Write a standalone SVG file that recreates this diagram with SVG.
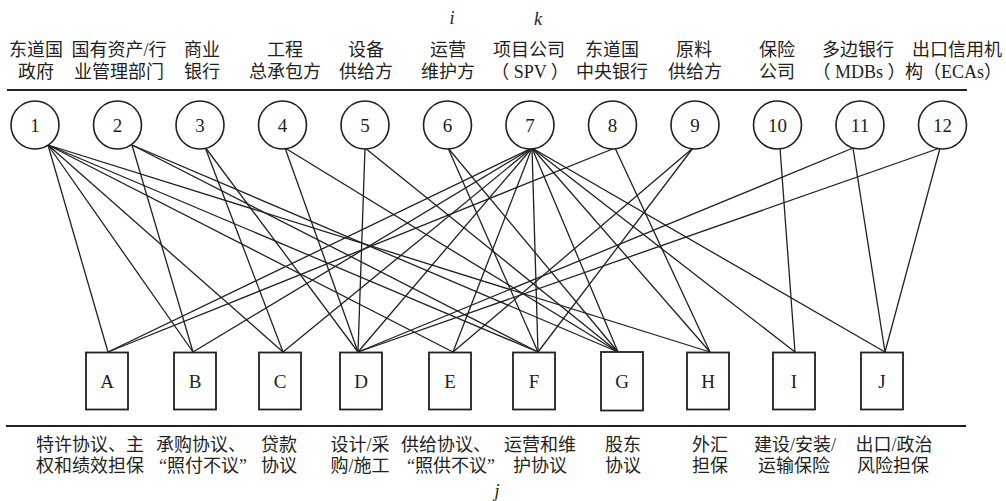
<svg xmlns="http://www.w3.org/2000/svg" width="1006" height="501" viewBox="0 0 1006 501">
<style>
  .cn { font-family: "Liberation Serif", "Noto Sans CJK SC", serif; font-size: 18px; fill: #231f20; text-anchor: middle; }
  .end { text-anchor: end; }
  .num { font-family: "Liberation Serif", serif; font-size: 19px; fill: #231f20; text-anchor: middle; }
  .var { font-family: "Liberation Serif", serif; font-style: italic; font-size: 18px; fill: #231f20; text-anchor: middle; }
  .party { fill: #fff; stroke: #231f20; stroke-width: 1.6; }
  .contract { fill: #fff; stroke: #231f20; stroke-width: 1.8; }
  .rule { stroke: #231f20; stroke-width: 2; }
  #links line { stroke: #231f20; stroke-width: 1.3; }
</style>

<!-- header labels -->
<text class="var" x="452" y="24">i</text>
<text class="var" x="538" y="25">k</text>

<!-- rules -->
<line class="rule" x1="7" y1="90" x2="967" y2="90"/>
<line class="rule" x1="6" y1="426" x2="966" y2="426"/>

<!-- connectors: party -> contract -->
<g id="links">
  <!-- 1 -->
  <line x1="48" y1="145" x2="108" y2="352"/>
  <line x1="48" y1="145" x2="193" y2="352"/>
  <line x1="48" y1="145" x2="283" y2="352"/>
  <line x1="48" y1="145" x2="453" y2="352"/>
  <line x1="48" y1="145" x2="538" y2="352"/>
  <line x1="48" y1="145" x2="710" y2="352"/>
  <!-- 2 -->
  <line x1="132" y1="145" x2="193" y2="352"/>
  <line x1="132" y1="145" x2="538" y2="352"/>
  <line x1="132" y1="145" x2="618" y2="352"/>
  <!-- 3 -->
  <line x1="205" y1="147" x2="283" y2="352"/>
  <line x1="205" y1="147" x2="358" y2="352"/>
  <!-- 4 -->
  <line x1="285" y1="148" x2="358" y2="352"/>
  <line x1="285" y1="148" x2="618" y2="352"/>
  <!-- 5 -->
  <line x1="365" y1="148" x2="358" y2="352"/>
  <line x1="365" y1="148" x2="618" y2="352"/>
  <!-- 6 -->
  <line x1="448" y1="148" x2="538" y2="352"/>
  <line x1="448" y1="148" x2="618" y2="352"/>
  <!-- 7 -->
  <line x1="532" y1="148" x2="108" y2="352"/>
  <line x1="532" y1="148" x2="193" y2="352"/>
  <line x1="532" y1="148" x2="283" y2="352"/>
  <line x1="532" y1="148" x2="358" y2="352"/>
  <line x1="532" y1="148" x2="453" y2="352"/>
  <line x1="532" y1="148" x2="538" y2="352"/>
  <line x1="532" y1="148" x2="618" y2="352"/>
  <line x1="532" y1="148" x2="710" y2="352"/>
  <line x1="532" y1="148" x2="795" y2="352"/>
  <line x1="532" y1="148" x2="885" y2="352"/>
  <!-- 8 -->
  <line x1="615" y1="148" x2="108" y2="352"/>
  <line x1="615" y1="148" x2="710" y2="352"/>
  <!-- 9 -->
  <line x1="693" y1="148" x2="453" y2="352"/>
  <line x1="693" y1="148" x2="538" y2="352"/>
  <!-- 10 -->
  <line x1="780" y1="148" x2="795" y2="352"/>
  <!-- 11 -->
  <line x1="853" y1="148" x2="358" y2="352"/>
  <line x1="853" y1="148" x2="885" y2="352"/>
  <!-- 12 -->
  <line x1="940" y1="148" x2="358" y2="352"/>
  <line x1="940" y1="148" x2="885" y2="352"/>
</g>

<!-- parties -->
<g id="p1"><circle class="party" cx="35" cy="125" r="24"/><text class="num" x="35" y="132">1</text>
  <text class="cn" x="36" y="56">东道国</text><text class="cn" x="36" y="78">政府</text></g>
<g id="p2"><circle class="party" cx="117.5" cy="125" r="24"/><text class="num" x="117.5" y="132">2</text>
  <text class="cn" x="119" y="56">国有资产/行</text><text class="cn" x="119" y="78">业管理部门</text></g>
<g id="p3"><circle class="party" cx="200" cy="125" r="24"/><text class="num" x="200" y="132">3</text>
  <text class="cn" x="202" y="56">商业</text><text class="cn" x="202" y="78">银行</text></g>
<g id="p4"><circle class="party" cx="282.5" cy="125" r="24"/><text class="num" x="282.5" y="132">4</text>
  <text class="cn" x="285" y="56">工程</text><text class="cn" x="285" y="78">总承包方</text></g>
<g id="p5"><circle class="party" cx="365" cy="125" r="24"/><text class="num" x="365" y="132">5</text>
  <text class="cn" x="366" y="56">设备</text><text class="cn" x="366" y="78">供给方</text></g>
<g id="p6"><circle class="party" cx="447.5" cy="125" r="24"/><text class="num" x="447.5" y="132">6</text>
  <text class="cn" x="448" y="56">运营</text><text class="cn" x="448" y="78">维护方</text></g>
<g id="p7"><circle class="party" cx="530" cy="125" r="24"/><text class="num" x="530" y="132">7</text>
  <text class="cn" x="529" y="56">项目公司</text><text class="cn" x="530" y="78">（ SPV ）</text></g>
<g id="p8"><circle class="party" cx="612.5" cy="125" r="24"/><text class="num" x="612.5" y="132">8</text>
  <text class="cn" x="612" y="56">东道国</text><text class="cn" x="612" y="78">中央银行</text></g>
<g id="p9"><circle class="party" cx="695" cy="125" r="24"/><text class="num" x="695" y="132">9</text>
  <text class="cn" x="694" y="56">原料</text><text class="cn" x="695" y="78">供给方</text></g>
<g id="p10"><circle class="party" cx="777.5" cy="125" r="24"/><text class="num" x="777.5" y="132">10</text>
  <text class="cn" x="777" y="56">保险</text><text class="cn" x="777" y="78">公司</text></g>
<g id="p11"><circle class="party" cx="860" cy="125" r="24"/><text class="num" x="860" y="132">11</text>
  <text class="cn" x="858" y="56">多边银行</text><text class="cn" x="859" y="78">（ MDBs ）</text></g>
<g id="p12"><circle class="party" cx="942.5" cy="125" r="24"/><text class="num" x="942.5" y="132">12</text>
  <text class="cn end" x="1002" y="56">出口信用机</text><text class="cn end" x="1002" y="78">构（ECAs）</text></g>

<!-- contracts -->
<g id="cA"><rect class="contract" x="86" y="352.5" width="42" height="57"/><text class="num" x="107" y="388">A</text>
  <text class="cn" x="90" y="451">特许协议、主</text><text class="cn" x="90" y="472">权和绩效担保</text></g>
<g id="cB"><rect class="contract" x="174" y="352.5" width="42" height="57"/><text class="num" x="195" y="388">B</text>
  <text class="cn" x="201" y="451">承购协议、</text><text class="cn" x="203" y="472">“照付不议”</text></g>
<g id="cC"><rect class="contract" x="259" y="352.5" width="42" height="57"/><text class="num" x="280" y="388">C</text>
  <text class="cn" x="279" y="451">贷款</text><text class="cn" x="279" y="472">协议</text></g>
<g id="cD"><rect class="contract" x="340" y="352.5" width="42" height="57"/><text class="num" x="361" y="388">D</text>
  <text class="cn" x="360" y="451">设计/采</text><text class="cn" x="360" y="472">购/施工</text></g>
<g id="cE"><rect class="contract" x="429" y="352.5" width="42" height="57"/><text class="num" x="450" y="388">E</text>
  <text class="cn" x="446" y="451">供给协议、</text><text class="cn" x="451" y="472">“照供不议”</text></g>
<g id="cF"><rect class="contract" x="513" y="352.5" width="42" height="57"/><text class="num" x="534" y="388">F</text>
  <text class="cn" x="540" y="451">运营和维</text><text class="cn" x="540" y="472">护协议</text></g>
<g id="cG"><rect class="contract" x="601" y="352" width="42" height="58.5"/><text class="num" x="622" y="388">G</text>
  <text class="cn" x="623" y="451">股东</text><text class="cn" x="623" y="472">协议</text></g>
<g id="cH"><rect class="contract" x="687" y="352.5" width="42" height="57"/><text class="num" x="708" y="388">H</text>
  <text class="cn" x="710" y="451">外汇</text><text class="cn" x="710" y="472">担保</text></g>
<g id="cI"><rect class="contract" x="773" y="352.5" width="42" height="57"/><text class="num" x="794" y="388">I</text>
  <text class="cn" x="795" y="451">建设/安装/</text><text class="cn" x="794" y="472">运输保险</text></g>
<g id="cJ"><rect class="contract" x="861" y="352.5" width="42" height="57"/><text class="num" x="882" y="388">J</text>
  <text class="cn" x="894" y="451">出口/政治</text><text class="cn" x="893" y="472">风险担保</text></g>

<text class="var" x="497" y="497">j</text>
</svg>
